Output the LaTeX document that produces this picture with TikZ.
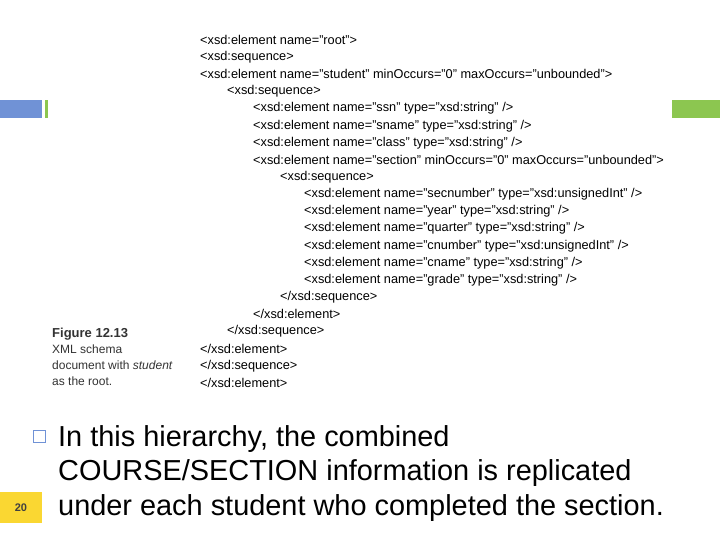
\documentclass[tikz,border=0pt]{standalone}
\usepackage{fontspec}
\setmainfont{Liberation Sans}
\begin{document}
\begin{tikzpicture}[x=1pt,y=-1pt,
  code/.style={anchor=west,inner sep=0pt,font=\fontsize{12.75}{13}\selectfont},
  big/.style={anchor=north west,inner sep=0pt,align=left,font=\fontsize{28.9}{34.5}\selectfont}]
\useasboundingbox (0,0) rectangle (720,540);
\fill[fill=white] (0,0) rectangle (720,540);
\fill[color={rgb,255:red,112;green,146;blue,214}] (0,100) rectangle (42,118);
\fill[color={rgb,255:red,140;green,198;blue,80}] (45,100) rectangle (48,118);
\fill[color={rgb,255:red,140;green,198;blue,80}] (672,100) rectangle (720,118);
\def\cl#1#2#3{\node[code] (l#1) at (#2,{40+17.15*(#1-1)}) {#3};}
\cl{1}{200}{<xsd:element name="root">}
\cl{2}{200}{<xsd:sequence>}
\cl{3}{200}{<xsd:element name="student" minOccurs="0" maxOccurs="unbounded">}
\cl{4}{227}{<xsd:sequence>}
\cl{5}{253}{<xsd:element name="ssn" type="xsd:string" />}
\cl{6}{253}{<xsd:element name="sname" type="xsd:string" />}
\cl{7}{253}{<xsd:element name="class" type="xsd:string" />}
\cl{8}{253}{<xsd:element name="section" minOccurs="0" maxOccurs="unbounded">}
\cl{9}{280}{<xsd:sequence>}
\cl{10}{304}{<xsd:element name="secnumber" type="xsd:unsignedInt" />}
\cl{11}{304}{<xsd:element name="year" type="xsd:string" />}
\cl{12}{304}{<xsd:element name="quarter" type="xsd:string" />}
\cl{13}{304}{<xsd:element name="cnumber" type="xsd:unsignedInt" />}
\cl{14}{304}{<xsd:element name="cname" type="xsd:string" />}
\cl{15}{304}{<xsd:element name="grade" type="xsd:string" />}
\cl{16}{280}{</xsd:sequence>}
\cl{17}{253}{</xsd:element>}
\cl{18}{227}{</xsd:sequence>}
\cl{19}{200}{</xsd:element>}
\cl{20}{200}{</xsd:sequence>}
\cl{21}{200}{</xsd:element>}
\node[anchor=north west,inner sep=0pt,align=left,font=\fontsize{12}{16}\selectfont,text=black!80] (cap) at (52,328)
 {\textbf{\fontsize{13}{16}\selectfont Figure 12.13}\\XML schema\\document with \textit{student}\\as the root.};
\draw[color={rgb,255:red,112;green,146;blue,214},line width=0.8] (33,430) rectangle (45,442) coordinate (bul);
\node[big] (txt) at (58,425) {In this hierarchy, the combined\\COURSE/SECTION information is replicated\\under each student who completed the section.};
\fill[color={rgb,255:red,250;green,215;blue,50}] (0,492) rectangle (42,523);
\node[font=\fontsize{11}{13}\selectfont\bfseries,text=black!75] (pg) at (21,508) {20};
\end{tikzpicture}
\end{document}
